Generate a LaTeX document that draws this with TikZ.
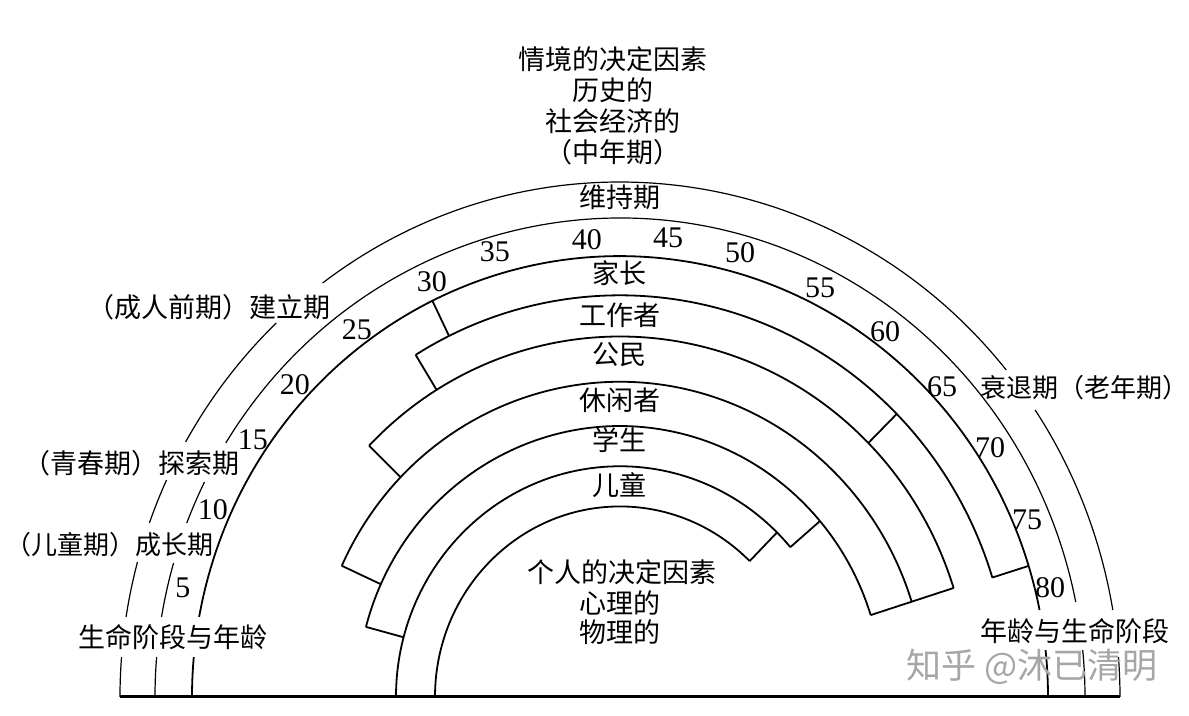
\documentclass[tikz,border=0pt]{standalone}
\usepackage{fontspec}
\setmainfont{Liberation Serif}
\newfontfamily\cjk{Noto Sans CJK SC}
\begin{document}
\begin{tikzpicture}[x=0.5pt,y=0.5pt,
  outerarc/.style={line width=0.6pt},
  rolearc/.style={line width=0.9pt},
  lab/.style={font=\cjk\fontsize{13.5}{15}\selectfont, inner sep=0pt},
  edgelab/.style={font=\cjk\fontsize{13}{15}\selectfont, inner sep=0pt},
  num/.style={font=\fontsize{15}{17}\selectfont, inner sep=0pt},
  wm/.style={font=\cjk\fontsize{17.5}{19}\selectfont, text=black!35, inner sep=0pt}]
\useasboundingbox (-620,-19) rectangle (569,697);

% baseline
\draw[line width=1.5pt] (-500,0) -- (500,0);

\begin{scope}[yscale=1.03]
% outer life-stage arcs (broken by labels)
\draw[outerarc]
  (180:500) arc[start angle=180, end angle=175.55, radius=500]
  (171.06:500) arc[start angle=171.06, end angle=164.8, radius=500]
  (160.25:500) arc[start angle=160.25, end angle=155.08, radius=500]
  (150.32:500) arc[start angle=150.32, end angle=133.43, radius=500]
  (126.5:500) arc[start angle=126.5, end angle=39.42, radius=500]
  (33.87:500) arc[start angle=33.87, end angle=9.73, radius=500]
  (4.45:500) arc[start angle=4.45, end angle=0, radius=500];
\draw[outerarc]
  (180:465) arc[start angle=180, end angle=175.21, radius=465]
  (170.38:465) arc[start angle=170.38, end angle=163.75, radius=465]
  (158.7:465) arc[start angle=158.7, end angle=153.33, radius=465]
  (147.97:465) arc[start angle=147.97, end angle=11.44, radius=465]
  (5.63:465) arc[start angle=5.63, end angle=0, radius=465];
\draw[rolearc]
  (180:428) arc[start angle=180, end angle=174.8, radius=428]
  (169.54:428) arc[start angle=169.54, end angle=11.38, radius=428]
  (6.12:428) arc[start angle=6.12, end angle=0, radius=428];

% role band boundaries
\draw[rolearc] (121.6:390) arc[start angle=121.6, end angle=17.3, radius=390];
\draw[rolearc] (135.8:350) arc[start angle=135.8, end angle=17.6, radius=350];
\draw[rolearc] (155.4:306) arc[start angle=155.4, end angle=17.6, radius=306];
\draw[rolearc] (165:263) arc[start angle=165, end angle=17.6, radius=263];
\draw[rolearc] (180:224) arc[start angle=180, end angle=40.5, radius=224];
\draw[rolearc] (180:185) arc[start angle=180, end angle=45.5, radius=185];

% band ends
\draw[rolearc] (116:428) -- (116:390);
\draw[rolearc] (17.3:428) -- (17.3:390);
\draw[rolearc] (121.6:390) -- (121.6:350);
\draw[rolearc] (44.8:390) -- (44.8:350);
\draw[rolearc] (135.8:350) -- (135.8:306);
\draw[rolearc] (17.6:350) -- (17.6:306);
\draw[rolearc] (155.4:306) -- (155.4:263);
\draw[rolearc] (17.6:306) -- (17.6:263);
\draw[rolearc] (165:263) -- (165:224);
\draw[rolearc] (40.5:263) -- (40.5:224);
\draw[rolearc] (45.5:224) -- (45.5:185);
\end{scope}

% top titles
\node[lab] (sit1) at (-7,638) {情境的决定因素};
\node[lab] (sit2) at (-7,607) {历史的};
\node[lab] (sit3) at (-7,576) {社会经济的};
\node[lab] (sit4) at (-7,545) {（中年期）};

% band labels
\node[lab] (maint) at (0,500) {维持期};
\node[lab] (parent) at (0,424) {家长};
\node[lab] (worker) at (0,382) {工作者};
\node[lab] (citizen) at (0,342) {公民};
\node[lab] (leisure) at (0,297) {休闲者};
\node[lab] (student) at (0,257) {学生};
\node[lab] (child) at (0,212) {儿童};

% personal determinants
\node[lab] (pers1) at (2,125) {个人的决定因素};
\node[lab] (pers2) at (0,94) {心理的};
\node[lab] (pers3) at (0,65) {物理的};

% stage labels
\node[lab, anchor=east] (est) at (-289,390) {（成人前期）建立期};
\node[lab, anchor=east] (expl) at (-380,234) {（青春期）探索期};
\node[edgelab, anchor=east] (grow) at (-406,152) {（儿童期）成长期};
\node[lab, anchor=east] (lsl) at (-352,60) {生命阶段与年龄};
\node[edgelab, anchor=west] (decl) at (360,309) {衰退期（老年期）};
\node[lab, anchor=west] (lsr) at (360,66) {年龄与生命阶段};

% ages
\node[num] (a5) at (-437,109) {5};
\node[num] (a10) at (-407,187) {10};
\node[num] (a15) at (-367,257) {15};
\node[num] (a20) at (-325,312) {20};
\node[num] (a25) at (-263,367) {25};
\node[num] (a30) at (-188,415) {30};
\node[num] (a35) at (-125,445) {35};
\node[num] (a40) at (-33,457) {40};
\node[num] (a45) at (48,459) {45};
\node[num] (a50) at (120,444) {50};
\node[num] (a55) at (200,409) {55};
\node[num] (a60) at (265,365) {60};
\node[num] (a65) at (322,310) {65};
\node[num] (a70) at (370,249) {70};
\node[num] (a75) at (407,177) {75};
\node[num] (a80) at (430,109) {80};

% watermark
\node[wm] (wmark) at (412,30) {知乎 @沐已清明};
\end{tikzpicture}
\end{document}
